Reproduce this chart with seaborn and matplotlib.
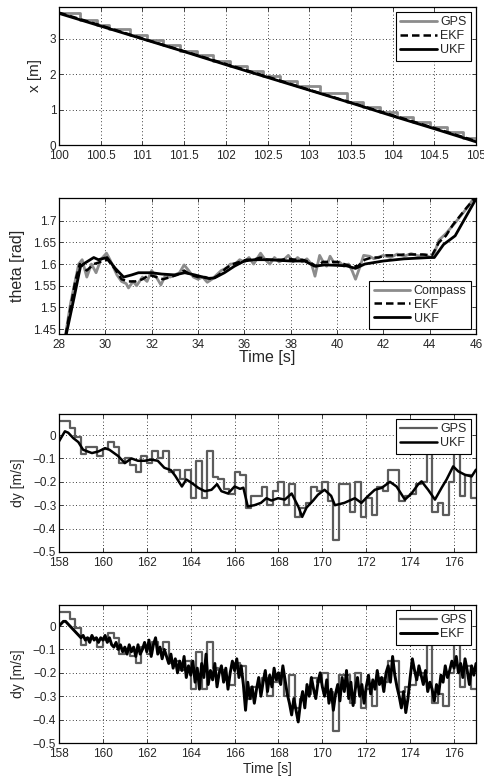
import matplotlib
matplotlib.use("Agg")
import matplotlib.pyplot as plt
import seaborn as sns
import numpy as np

sns.set_style("ticks")
plt.rcParams['font.family'] = ['Liberation Sans', 'DejaVu Sans']
plt.rcParams['axes.unicode_minus'] = True

# ---------------- panel 1: x position ----------------
x_gps_t = [100.0, 100.25, 100.45, 100.6, 100.85, 101.05, 101.25, 101.45, 101.65,
           101.85, 102.05, 102.25, 102.45, 102.65, 102.85, 103.13, 103.45, 103.65,
           103.85, 104.05, 104.25, 104.45, 104.65, 104.85, 105.0]
x_gps_v = [3.74, 3.54, 3.40, 3.29, 3.11, 2.96, 2.83, 2.67, 2.53, 2.38, 2.24, 2.10,
           1.95, 1.80, 1.66, 1.46, 1.22, 1.08, 0.94, 0.79, 0.65, 0.50, 0.36, 0.21, 0.10]
x_filt_t = [100.0, 100.5, 101.0, 101.5, 102.0, 102.5, 103.0, 103.5, 104.0, 104.5, 105.0]
x_ekf = [3.74, 3.38, 3.01, 2.65, 2.29, 1.93, 1.56, 1.20, 0.84, 0.48, 0.11]
x_ukf = [3.72, 3.36, 3.00, 2.64, 2.27, 1.91, 1.55, 1.19, 0.82, 0.46, 0.09]
x_xticks = [100, 100.5, 101, 101.5, 102, 102.5, 103, 103.5, 104, 104.5, 105]
x_xlabels = ["100", "100.5", "101", "101.5", "102", "102.5", "103", "103.5",
             "104", "104.5", "105"]
x_yticks = [0, 1, 2, 3]

# ---------------- panel 2: heading ----------------
th_comp_t = [28.2, 28.5, 28.85, 29.0, 29.2, 29.4, 29.6, 29.8, 30.05, 30.2, 30.5, 30.7,
             30.9, 31.0, 31.2, 31.35, 31.6, 31.8, 32.0, 32.2, 32.4, 32.6, 32.8, 33.0,
             33.2, 33.4, 33.6, 33.8, 34.0, 34.2, 34.4, 34.6, 34.8, 35.0, 35.2, 35.4,
             35.6, 35.8, 36.0, 36.2, 36.4, 36.7, 36.9, 37.1, 37.3, 37.5, 37.7, 37.9,
             38.1, 38.3, 38.5, 38.7, 38.9, 39.05, 39.25, 39.4, 39.55, 39.7, 39.9, 40.1,
             40.3, 40.5, 40.65, 40.8, 41.0, 41.15, 41.4, 41.6, 41.8, 42.0, 42.3, 42.6,
             42.9, 43.2, 43.5, 43.8, 44.05, 44.2, 44.4, 44.7, 45.1, 45.4, 45.7, 46.0]
th_comp_v = [1.41, 1.51, 1.60, 1.61, 1.57, 1.60, 1.58, 1.61, 1.625, 1.61, 1.575, 1.56,
             1.555, 1.545, 1.56, 1.55, 1.57, 1.56, 1.585, 1.57, 1.552, 1.575, 1.57, 1.575,
             1.58, 1.598, 1.585, 1.57, 1.565, 1.57, 1.558, 1.565, 1.575, 1.585, 1.59, 1.60,
             1.60, 1.61, 1.605, 1.615, 1.60, 1.625, 1.61, 1.60, 1.615, 1.605, 1.61, 1.62,
             1.605, 1.615, 1.605, 1.612, 1.60, 1.572, 1.62, 1.605, 1.595, 1.618, 1.60, 1.605,
             1.595, 1.60, 1.585, 1.565, 1.595, 1.62, 1.618, 1.612, 1.616, 1.62, 1.615, 1.623,
             1.618, 1.624, 1.619, 1.621, 1.615, 1.625, 1.655, 1.67, 1.695, 1.715, 1.735, 1.76]
th_ekf_t = [28.2, 28.7, 28.9, 29.2, 29.5, 29.8, 30.1, 30.4, 30.7, 31.0, 31.3, 31.6,
            31.9, 32.2, 32.5, 32.8, 33.1, 33.4, 33.7, 34.0, 34.3, 34.6, 34.9, 35.2,
            35.5, 35.8, 36.1, 36.4, 36.7, 37.0, 37.3, 37.6, 37.9, 38.2, 38.5, 38.8,
            39.1, 39.4, 39.7, 40.0, 40.3, 40.6, 40.9, 41.2, 41.5, 41.8, 42.1, 42.5,
            42.9, 43.3, 43.7, 44.1, 44.4, 44.7, 45.0, 45.3, 45.6, 46.0]
th_ekf_v = [1.41, 1.56, 1.60, 1.585, 1.60, 1.605, 1.61, 1.59, 1.565, 1.56, 1.56, 1.565,
            1.575, 1.57, 1.565, 1.57, 1.575, 1.585, 1.575, 1.57, 1.57, 1.565, 1.575, 1.59,
            1.60, 1.605, 1.61, 1.61, 1.615, 1.61, 1.61, 1.61, 1.612, 1.61, 1.61, 1.605,
            1.595, 1.605, 1.605, 1.605, 1.60, 1.595, 1.595, 1.61, 1.615, 1.615, 1.62, 1.62,
            1.622, 1.622, 1.622, 1.62, 1.65, 1.665, 1.69, 1.71, 1.73, 1.755]
th_ukf_t = [28.2, 28.64, 28.93, 29.14, 29.5, 29.7, 30.07, 30.43, 30.79, 31.14, 31.43,
            32.0, 32.43, 33.0, 33.43, 33.86, 34.43, 34.71, 35.14, 35.57, 36.0, 36.43,
            37.0, 38.0, 38.6, 39.04, 39.47, 40.0, 40.4, 40.8, 41.2, 42.0, 42.9, 44.0,
            44.2, 44.6, 45.1, 46.0]
th_ukf_v = [1.41, 1.52, 1.595, 1.603, 1.615, 1.61, 1.615, 1.59, 1.57, 1.575, 1.58,
            1.58, 1.577, 1.575, 1.58, 1.575, 1.567, 1.568, 1.58, 1.595, 1.607, 1.61,
            1.61, 1.607, 1.607, 1.595, 1.598, 1.597, 1.596, 1.59, 1.60, 1.607, 1.612, 1.615,
            1.615, 1.645, 1.665, 1.75]
th_xticks = [28, 30, 32, 34, 36, 38, 40, 42, 44, 46]
th_yticks = [1.45, 1.5, 1.55, 1.6, 1.65, 1.7]
th_ylabels = ["1.45", "1.5", "1.55", "1.6", "1.65", "1.7"]

# ---------------- panels 3/4: lateral velocity ----------------
gps_start, gps_dt = 158.0, 0.25
dy_gps = [0.06, 0.06, 0.03, -0.01, -0.08, -0.05, -0.05, -0.09, -0.06, -0.03,
          -0.05, -0.12, -0.10, -0.13, -0.16, -0.09, -0.12, -0.07, -0.10, -0.07,
          -0.16, -0.15, -0.19, -0.15, -0.27, -0.11, -0.27, -0.07, -0.18, -0.19,
          -0.23, -0.25, -0.16, -0.17, -0.31, -0.26, -0.26, -0.22, -0.30, -0.24,
          -0.20, -0.30, -0.21, -0.35, -0.31, -0.29, -0.22, -0.24, -0.20, -0.28,
          -0.45, -0.21, -0.21, -0.33, -0.20, -0.35, -0.27, -0.34, -0.22, -0.24,
          -0.15, -0.15, -0.28, -0.26, -0.25, -0.21, -0.20, -0.08, -0.33, -0.29,
          -0.34, -0.20, -0.04, -0.26, -0.17, -0.27]

dy_ukf_t = [158.0, 158.27, 158.42, 158.65, 158.88, 159.1, 159.5, 159.8, 160.1, 160.3,
            160.7, 161.0, 161.3, 161.6, 161.9, 162.2, 162.5, 162.8, 163.1, 163.3,
            163.6, 163.8, 164.05, 164.35, 164.65, 164.95, 165.2, 165.4, 165.7, 166.0,
            166.25, 166.4, 166.6, 166.9, 167.2, 167.45, 167.68, 167.98, 168.29, 168.6,
            168.9, 169.08, 169.28, 169.58, 169.8, 170.1, 170.4, 170.57, 171.0, 171.48,
            171.78, 172.09, 172.39, 172.7, 173.08, 173.38, 173.76, 174.06, 174.37, 174.52,
            174.82, 175.13, 175.43, 175.66, 175.96, 176.19, 176.5, 176.8, 177.0]
dy_ukf_v = [-0.027, 0.016, 0.01, -0.013, -0.03, -0.063, -0.077, -0.07, -0.056, -0.063,
            -0.09, -0.12, -0.10, -0.11, -0.11, -0.105, -0.11, -0.14, -0.15, -0.175,
            -0.22, -0.19, -0.205, -0.226, -0.24, -0.234, -0.21, -0.24, -0.25, -0.22,
            -0.23, -0.225, -0.305, -0.30, -0.29, -0.27, -0.28, -0.27, -0.276, -0.25,
            -0.305, -0.35, -0.31, -0.28, -0.255, -0.234, -0.26, -0.30, -0.29, -0.27,
            -0.29, -0.26, -0.234, -0.226, -0.20, -0.22, -0.276, -0.25, -0.21, -0.198,
            -0.234, -0.276, -0.226, -0.19, -0.134, -0.155, -0.17, -0.177, -0.148]

ekf_start, ekf_dt = 158.0, 0.1
dy_ekf = [0.00, 0.01, 0.02, 0.02, 0.01, 0.00, -0.01, -0.02, -0.03, -0.04,
          -0.05, -0.04, -0.06, -0.05, -0.07, -0.04, -0.06, -0.05, -0.07, -0.05,
          -0.06, -0.04, -0.07, -0.05, -0.08, -0.09, -0.07, -0.10, -0.08, -0.11,
          -0.09, -0.12, -0.08, -0.11, -0.09, -0.13, -0.08, -0.12, -0.10, -0.07,
          -0.11, -0.06, -0.13, -0.08, -0.05, -0.12, -0.09, -0.14, -0.10, -0.13,
          -0.16, -0.12, -0.18, -0.14, -0.20, -0.15, -0.19, -0.13, -0.22, -0.17,
          -0.21, -0.15, -0.24, -0.18, -0.27, -0.16, -0.22, -0.12, -0.25, -0.19,
          -0.23, -0.16, -0.26, -0.20, -0.17, -0.24, -0.18, -0.27, -0.20, -0.15,
          -0.19, -0.14, -0.22, -0.17, -0.25, -0.36, -0.24, -0.31, -0.26, -0.33,
          -0.27, -0.22, -0.30, -0.24, -0.19, -0.28, -0.21, -0.26, -0.18, -0.23,
          -0.20, -0.25, -0.17, -0.23, -0.29, -0.33, -0.38, -0.31, -0.36, -0.41,
          -0.33, -0.28, -0.35, -0.25, -0.30, -0.22, -0.27, -0.31, -0.24, -0.20,
          -0.26, -0.30, -0.23, -0.33, -0.27, -0.36, -0.29, -0.25, -0.32, -0.22,
          -0.28, -0.19, -0.31, -0.24, -0.34, -0.27, -0.22, -0.30, -0.25, -0.33,
          -0.26, -0.21, -0.29, -0.23, -0.27, -0.19, -0.25, -0.22, -0.28, -0.20,
          -0.17, -0.24, -0.13, -0.21, -0.26, -0.30, -0.35, -0.28, -0.37, -0.31,
          -0.22, -0.14, -0.19, -0.23, -0.17, -0.21, -0.25, -0.19, -0.28, -0.24,
          -0.27, -0.32, -0.25, -0.29, -0.21, -0.24, -0.17, -0.22, -0.19, -0.15,
          -0.18, -0.13, -0.20, -0.16, -0.22, -0.14, -0.19, -0.25, -0.17, -0.21,
          -0.16]
dy_xticks = [158, 160, 162, 164, 166, 168, 170, 172, 174, 176]
dy_yticks = [0, -0.1, -0.2, -0.3, -0.4, -0.5]
dy_ylabels = ["0", "\u22120.1", "\u22120.2", "\u22120.3", "\u22120.4", "\u22120.5"]

# sample grids for the regularly sampled series
gps_t = gps_start + gps_dt * np.arange(len(dy_gps) + 1)
gps_v = dy_gps + [dy_gps[-1]]
ekf_t = ekf_start + ekf_dt * np.arange(len(dy_ekf))

LIGHT = "#8c8c8c"
DARK = "#5c5c5c"
DASH = (0, (3, 1.6))

fig = plt.figure(figsize=(4.84, 7.78), dpi=100)
W = 417 / 484
H = 138 / 778
ax1 = fig.add_axes([59 / 484, 1 - 145 / 778, W, H])
ax2 = fig.add_axes([59 / 484, 1 - 334 / 778, W, 136 / 778])
ax3 = fig.add_axes([59 / 484, 1 - 552 / 778, W, H])
ax4 = fig.add_axes([59 / 484, 1 - 743 / 778, W, H])


def style_axis(ax):
    ax.grid(True, linestyle=(0, (1, 3)), color="black", linewidth=0.6)
    ax.tick_params(direction="in", top=True, right=True, length=3,
                   width=0.6, labelsize=8.5, pad=2)
    ax.tick_params(axis="x", pad=3.5)
    for sp in ax.spines.values():
        sp.set_visible(True)
        sp.set_color("black")
        sp.set_linewidth(0.9)


def legend(ax, loc):
    leg = ax.legend(loc=loc, fontsize=9, frameon=True, fancybox=False,
                    framealpha=1, edgecolor="black", borderaxespad=0.4,
                    handlelength=2.9, handletextpad=0.3, labelspacing=0.15,
                    borderpad=0.35)
    leg.get_frame().set_linewidth(0.8)
    leg.set_zorder(10)


# panel 1
sns.lineplot(x=x_gps_t, y=x_gps_v, ax=ax1, color=LIGHT, lw=2, label="GPS",
             drawstyle="steps-post", estimator=None, sort=False)
sns.lineplot(x=x_filt_t, y=x_ekf, ax=ax1, color="black", lw=1.8, linestyle=DASH,
             label="EKF", estimator=None, sort=False)
sns.lineplot(x=x_filt_t, y=x_ukf, ax=ax1, color="black", lw=2, label="UKF",
             estimator=None, sort=False)
ax1.set_xlim(100, 105)
ax1.set_ylim(0, 3.9)
ax1.set_xticks(x_xticks)
ax1.set_xticklabels(x_xlabels)
ax1.set_yticks(x_yticks)
ax1.set_ylabel("x [m]", fontsize=11)
ax1.yaxis.set_label_coords(-0.04, 0.5)
style_axis(ax1)
legend(ax1, "upper right")

# panel 2
sns.lineplot(x=th_comp_t, y=th_comp_v, ax=ax2, color=LIGHT, lw=2, label="Compass",
             estimator=None, sort=False)
sns.lineplot(x=th_ekf_t, y=th_ekf_v, ax=ax2, color="black", lw=1.8, linestyle=DASH,
             label="EKF", estimator=None, sort=False)
sns.lineplot(x=th_ukf_t, y=th_ukf_v, ax=ax2, color="black", lw=2, label="UKF",
             estimator=None, sort=False)
ax2.set_xlim(28, 46)
ax2.set_ylim(1.439, 1.752)
ax2.set_xticks(th_xticks)
ax2.set_yticks(th_yticks)
ax2.set_yticklabels(th_ylabels)
ax2.set_ylabel("theta [rad]", fontsize=11.5)
ax2.yaxis.set_label_coords(-0.082, 0.5)
ax2.set_xlabel("Time [s]", fontsize=11.5)
ax2.xaxis.set_label_coords(0.5, -0.115)
style_axis(ax2)
legend(ax2, "lower right")

# panel 3
sns.lineplot(x=gps_t, y=gps_v, ax=ax3, color=DARK, lw=1.6, label="GPS",
             drawstyle="steps-post", estimator=None, sort=False)
sns.lineplot(x=dy_ukf_t, y=dy_ukf_v, ax=ax3, color="black", lw=1.8, label="UKF",
             estimator=None, sort=False)

# panel 4
sns.lineplot(x=gps_t, y=gps_v, ax=ax4, color=DARK, lw=1.6, label="GPS",
             drawstyle="steps-post", estimator=None, sort=False)
sns.lineplot(x=ekf_t, y=dy_ekf, ax=ax4, color="black", lw=2.1, label="EKF",
             estimator=None, sort=False)

for ax in (ax3, ax4):
    ax.set_xlim(158, 177)
    ax.set_ylim(-0.5, 0.09)
    ax.set_xticks(dy_xticks)
    ax.set_yticks(dy_yticks)
    ax.set_yticklabels(dy_ylabels)
    ax.set_ylabel("dy [m/s]", fontsize=10)
    ax.yaxis.set_label_coords(-0.082, 0.5)
    ax.set_xlabel("")
    style_axis(ax)
    legend(ax, "upper right")

ax4.set_xlabel("Time [s]", fontsize=10)
ax4.xaxis.set_label_coords(0.5, -0.135)

fig.savefig("out.png", dpi=100)
